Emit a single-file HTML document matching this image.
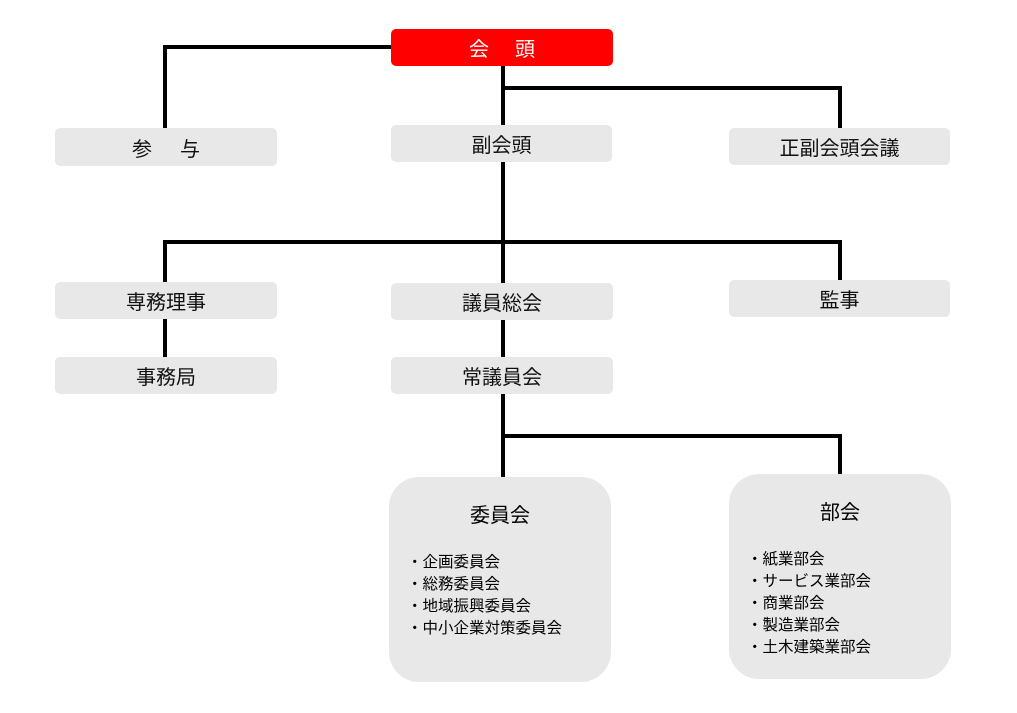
<!DOCTYPE html>
<html><head><meta charset="utf-8"><style>
body{margin:0;width:1017px;height:713px;background:#fff;position:relative;overflow:hidden;font-family:"Liberation Sans","Noto Sans CJK JP",sans-serif;}
.b{position:absolute;background:#e8e8e8;border-radius:5px;display:flex;align-items:center;justify-content:center;font-size:20px;color:#111;}
.l{position:absolute;background:#000;}
.big{position:absolute;background:#e8e8e8;border-radius:30px;}
.big .t{position:absolute;left:0;right:0;text-align:center;font-size:20px;}
.big ul{position:absolute;left:18px;margin:0;padding:0;list-style:none;font-size:15.5px;line-height:22px;}
</style></head><body>
<div class="l" style="left:163px;top:45px;width:230px;height:4px"></div>
<div class="l" style="left:163px;top:45px;width:4px;height:84px"></div>
<div class="l" style="left:501px;top:64px;width:4px;height:62px"></div>
<div class="l" style="left:501px;top:86px;width:341px;height:4px"></div>
<div class="l" style="left:838px;top:86px;width:4px;height:43px"></div>
<div class="l" style="left:501px;top:160px;width:4px;height:124px"></div>
<div class="l" style="left:163px;top:240px;width:679px;height:4px"></div>
<div class="l" style="left:163px;top:240px;width:4px;height:43px"></div>
<div class="l" style="left:838px;top:240px;width:4px;height:41px"></div>
<div class="l" style="left:163px;top:318px;width:4px;height:40px"></div>
<div class="l" style="left:501px;top:318px;width:4px;height:40px"></div>
<div class="l" style="left:501px;top:392px;width:4px;height:86px"></div>
<div class="l" style="left:501px;top:434px;width:341px;height:4px"></div>
<div class="l" style="left:838px;top:434px;width:4px;height:41px"></div>

<div class="b" style="left:391px;top:29px;width:222px;height:37px;background:#f00;color:#fff">会<span style="display:inline-block;width:26px"></span>頭</div>
<div class="b" style="left:55px;top:128px;width:222px;height:38px">参<span style="display:inline-block;width:28px"></span>与</div>
<div class="b" style="left:391px;top:125px;width:221px;height:37px">副会頭</div>
<div class="b" style="left:729px;top:128px;width:221px;height:37px">正副会頭会議</div>
<div class="b" style="left:55px;top:282px;width:222px;height:37px">専務理事</div>
<div class="b" style="left:391px;top:283px;width:222px;height:37px">議員総会</div>
<div class="b" style="left:729px;top:280px;width:221px;height:37px">監事</div>
<div class="b" style="left:55px;top:357px;width:222px;height:37px">事務局</div>
<div class="b" style="left:391px;top:357px;width:222px;height:37px">常議員会</div>

<div class="big" style="left:389px;top:477px;width:222px;height:205px">
<div class="t" style="top:22px">委員会</div>
<ul style="top:75px"><li>・企画委員会</li><li>・総務委員会</li><li>・地域振興委員会</li><li>・中小企業対策委員会</li></ul>
</div>
<div class="big" style="left:729px;top:474px;width:222px;height:205px">
<div class="t" style="top:22px">部会</div>
<ul style="top:75px"><li>・紙業部会</li><li>・サービス業部会</li><li>・商業部会</li><li>・製造業部会</li><li>・土木建築業部会</li></ul>
</div>
</body></html>
